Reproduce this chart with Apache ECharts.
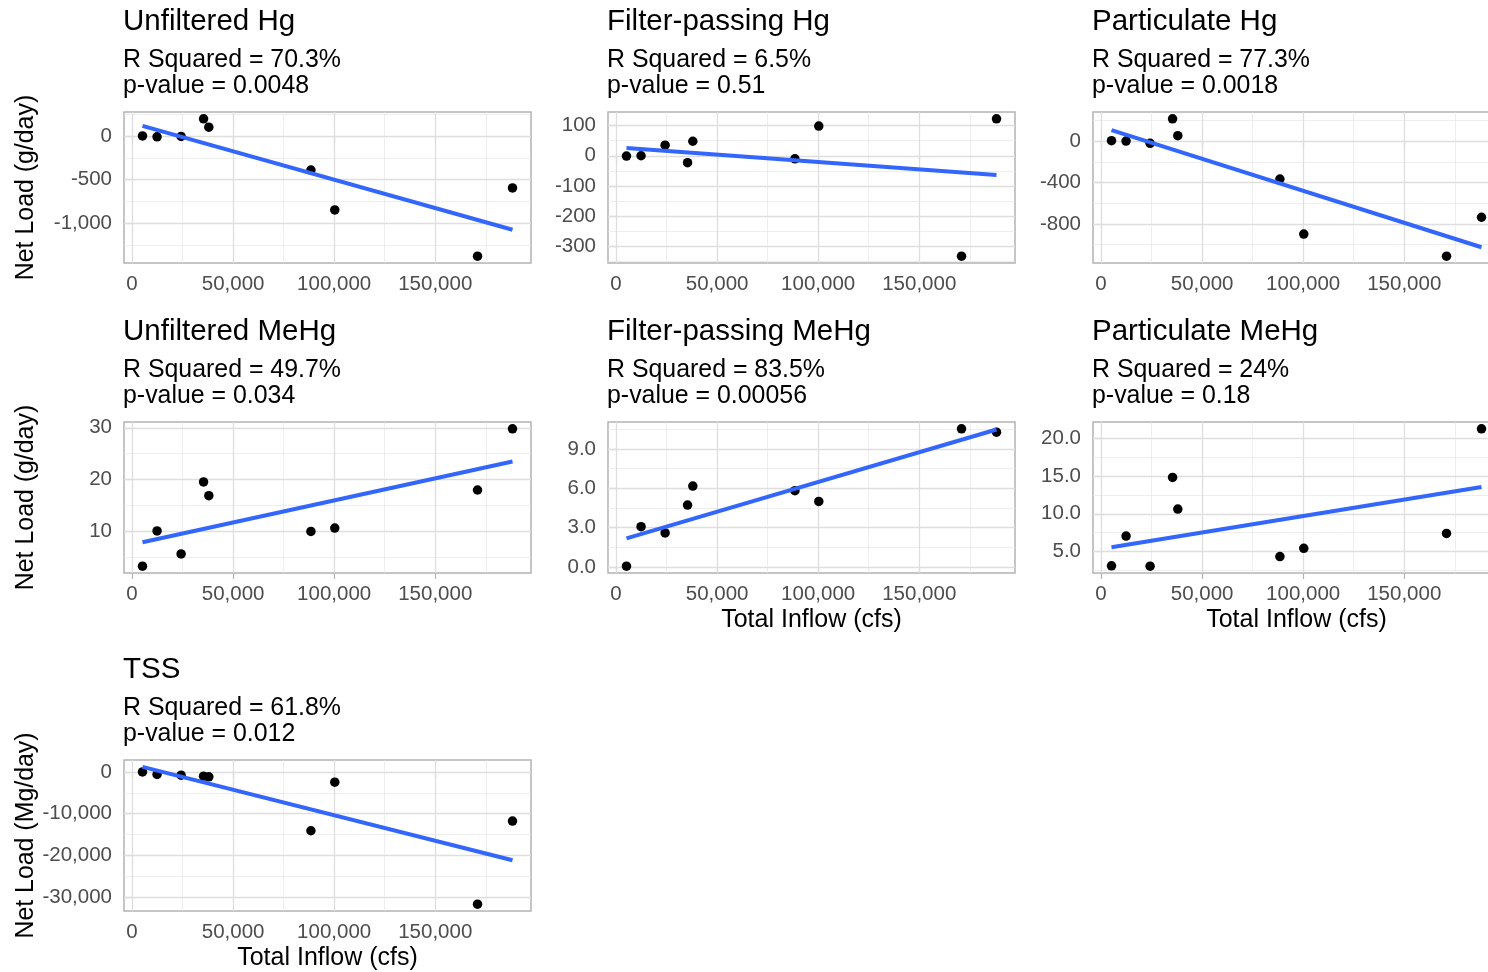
<!DOCTYPE html>
<html>
<head>
<meta charset="utf-8">
<script src="https://cdn.jsdelivr.net/npm/echarts@6/dist/echarts.min.js"></script>
<style>html,body{margin:0;padding:0;background:#fff;overflow:hidden;width:1488px;height:972px}#main{width:1512px;height:972px}</style>
</head>
<body>
<div id="main"></div>
<script>
// ---------- data ----------
const inflow = [5200, 12400, 24300, 35400, 38000, 88500, 100300, 170900, 188200];
const fitInflow = [5200, 188200];
const xTicks = [0, 50000, 100000, 150000];
const xTickLabels = ['0', '50,000', '100,000', '150,000'];
const xMinorGrid = [25000, 75000, 125000, 175000];

const unfilteredHg = [5, -5, 0, 202, 106, -388, -848, -1381, -594];
const unfilteredHgFit = [122, -1077];
const unfilteredHgTicks = [0, -500, -1000];
const unfilteredHgTickLabels = ['0', '-500', '-1,000'];
const unfilteredHgMinor = [250, -250, -750, -1250];

const filterHg = [-1, 0, 35, -23, 48, -10, 98, -332, 122];
const filterHgFit = [26, -64];
const filterHgTicks = [100, 0, -100, -200, -300];
const filterHgTickLabels = ['100', '0', '-100', '-200', '-300'];
const filterHgMinor = [50, -50, -150, -250, -350];

const partHg = [7, 3, -19, 218, 55, -365, -899, -1113, -736];
const partHgFit = [109, -1027];
const partHgTicks = [0, -400, -800];
const partHgTickLabels = ['0', '-400', '-800'];
const partHgMinor = [200, -200, -600, -1000];

const unfilteredMeHg = [3.3, 10.1, 5.65, 19.55, 16.9, 10.0, 10.65, 18.0, 29.8];
const unfilteredMeHgFit = [7.9, 23.5];
const unfilteredMeHgTicks = [10, 20, 30];
const unfilteredMeHgTickLabels = ['10', '20', '30'];
const unfilteredMeHgMinor = [5, 15, 25];

const filterMeHg = [0.07, 3.08, 2.6, 4.72, 6.17, 5.82, 5.0, 10.53, 10.28];
const filterMeHgFit = [2.19, 10.48];
const filterMeHgTicks = [0, 3, 6, 9];
const filterMeHgTickLabels = ['0.0', '3.0', '6.0', '9.0'];
const filterMeHgMinor = [1.5, 4.5, 7.5, 10.5];

const partMeHg = [3.12, 7.06, 3.08, 14.81, 10.62, 4.34, 5.44, 7.41, 21.23];
const partMeHgFit = [5.57, 13.54];
const partMeHgTicks = [5, 10, 15, 20];
const partMeHgTickLabels = ['5.0', '10.0', '15.0', '20.0'];
const partMeHgMinor = [2.5, 7.5, 12.5, 17.5];

const tss = [50, -560, -720, -960, -1120, -14090, -2400, -31750, -11760];
const tssFit = [1280, -21200];
const tssTicks = [0, -10000, -20000, -30000];
const tssTickLabels = ['0', '-10,000', '-20,000', '-30,000'];
const tssMinor = [-5000, -15000, -25000];

const panelTitles = ['Unfiltered Hg', 'Filter-passing Hg', 'Particulate Hg',
  'Unfiltered MeHg', 'Filter-passing MeHg', 'Particulate MeHg', 'TSS'];
const rSquared = ['70.3%', '6.5%', '77.3%', '49.7%', '83.5%', '24%', '61.8%'];
const pValues = ['0.0048', '0.51', '0.0018', '0.034', '0.00056', '0.18', '0.012'];
const yAxisTitles = ['Net Load (g/day)', 'Net Load (g/day)', 'Net Load (Mg/day)'];
const xAxisTitle = 'Total Inflow (cfs)';

// ---------- layout ----------
const FONT = "'Liberation Sans', Arial, sans-serif";
const COL_LEFT = [124, 608, 1093];
const ROW_TOP = [112, 422, 760];
const PW = 407, PH = 151;

const panels = [
  [unfilteredHg, unfilteredHgFit, unfilteredHgTicks, unfilteredHgTickLabels, unfilteredHgMinor],
  [filterHg, filterHgFit, filterHgTicks, filterHgTickLabels, filterHgMinor],
  [partHg, partHgFit, partHgTicks, partHgTickLabels, partHgMinor],
  [unfilteredMeHg, unfilteredMeHgFit, unfilteredMeHgTicks, unfilteredMeHgTickLabels, unfilteredMeHgMinor],
  [filterMeHg, filterMeHgFit, filterMeHgTicks, filterMeHgTickLabels, filterMeHgMinor],
  [partMeHg, partMeHgFit, partMeHgTicks, partMeHgTickLabels, partMeHgMinor],
  [tss, tssFit, tssTicks, tssTickLabels, tssMinor]
];

function expand(vals) {
  const lo = Math.min(...vals), hi = Math.max(...vals);
  const pad = (hi - lo) * 0.05;
  return [lo - pad, hi + pad];
}
function lookup(ticks, labels, v) {
  for (let k = 0; k < ticks.length; k++) {
    if (Math.abs(ticks[k] - v) < 1e-9 * Math.max(1, Math.abs(v))) return labels[k];
  }
  return '';
}

const xr = expand(inflow.concat(fitInflow));
const grids = [], xAxes = [], yAxes = [], series = [], titles = [], graphics = [];

panels.forEach((p, i) => {
  const [ys, fit, yTicks, yLabels, yMinor] = p;
  const row = Math.floor(i / 3), col = i % 3;
  const left = COL_LEFT[col], top = ROW_TOP[row];
  const yr = expand(ys.concat(fit));

  grids.push({left: left, top: top, width: PW, height: PH, show: true,
    borderColor: '#B3B3B3', borderWidth: 1.5, backgroundColor: 'transparent'});

  xAxes.push({gridIndex: i, type: 'value', min: xr[0], max: xr[1],
    axisLine: {show: false}, splitLine: {show: false},
    axisTick: {show: true, customValues: xTicks, length: 6, lineStyle: {color: '#B3B3B3', width: 1.2}},
    axisLabel: {customValues: xTicks, formatter: v => lookup(xTicks, xTickLabels, v),
      margin: 11, fontSize: 20.5, color: '#4D4D4D', fontFamily: FONT}});

  yAxes.push({gridIndex: i, type: 'value', min: yr[0], max: yr[1],
    axisLine: {show: false}, splitLine: {show: false},
    axisTick: {show: true, customValues: yTicks, length: 6, lineStyle: {color: '#B3B3B3', width: 1.2}},
    axisLabel: {customValues: yTicks, formatter: v => lookup(yTicks, yLabels, v),
      margin: 12, fontSize: 20.5, color: '#4D4D4D', fontFamily: FONT}});

  const gl = [];
  xMinorGrid.forEach(v => gl.push({xAxis: v, lineStyle: {color: '#E6E6E6', width: 0.7, type: 'solid'}}));
  yMinor.forEach(v => gl.push({yAxis: v, lineStyle: {color: '#E6E6E6', width: 0.7, type: 'solid'}}));
  xTicks.forEach(v => gl.push({xAxis: v, lineStyle: {color: '#DEDEDE', width: 1.3, type: 'solid'}}));
  yTicks.forEach(v => gl.push({yAxis: v, lineStyle: {color: '#DEDEDE', width: 1.3, type: 'solid'}}));

  series.push({type: 'line', xAxisIndex: i, yAxisIndex: i, data: [], silent: true, z: 1,
    markLine: {silent: true, symbol: ['none', 'none'], label: {show: false}, z: 1,
      animation: false, emphasis: {disabled: true}, data: gl}});

  series.push({type: 'scatter', xAxisIndex: i, yAxisIndex: i, z: 3, silent: true,
    data: inflow.map((x, k) => [x, ys[k]]), symbolSize: 9.5,
    itemStyle: {color: '#000', opacity: 1}});

  series.push({type: 'line', xAxisIndex: i, yAxisIndex: i, z: 4, silent: true,
    data: fitInflow.map((x, k) => [x, fit[k]]), showSymbol: false, symbol: 'none',
    lineStyle: {color: '#3366FF', width: 4}});

  titles.push({text: panelTitles[i], subtext: 'R Squared = ' + rSquared[i] + '\np-value = ' + pValues[i],
    left: left - 1, top: top - 105, padding: 0, itemGap: 10,
    textStyle: {fontSize: 29.5, lineHeight: 29.5, fontWeight: 'normal', color: '#000', fontFamily: FONT},
    subtextStyle: {fontSize: 24.9, lineHeight: 26, color: '#000', fontFamily: FONT}});
});

// y axis titles
ROW_TOP.forEach((t, r) => {
  graphics.push({type: 'text', x: 26, y: t + PH / 2, rotation: Math.PI / 2,
    style: {text: yAxisTitles[r], align: 'center', verticalAlign: 'middle',
      fontSize: 24.9, fill: '#000', fontFamily: FONT}});
});
// x axis titles (bottom panels of each column)
[[1, 1], [1, 2], [2, 0]].forEach(([r, c]) => {
  graphics.push({type: 'text', x: COL_LEFT[c] + PW / 2, y: ROW_TOP[r] + PH + 47,
    style: {text: xAxisTitle, align: 'center', verticalAlign: 'middle',
      fontSize: 25, fill: '#000', fontFamily: FONT}});
});

const chart = echarts.init(document.getElementById('main'), null, {renderer: 'canvas'});
chart.setOption({
  animation: false,
  backgroundColor: '#fff',
  textStyle: {fontFamily: FONT},
  title: titles,
  grid: grids,
  xAxis: xAxes,
  yAxis: yAxes,
  series: series,
  graphic: graphics
});
</script>
</body>
</html>
